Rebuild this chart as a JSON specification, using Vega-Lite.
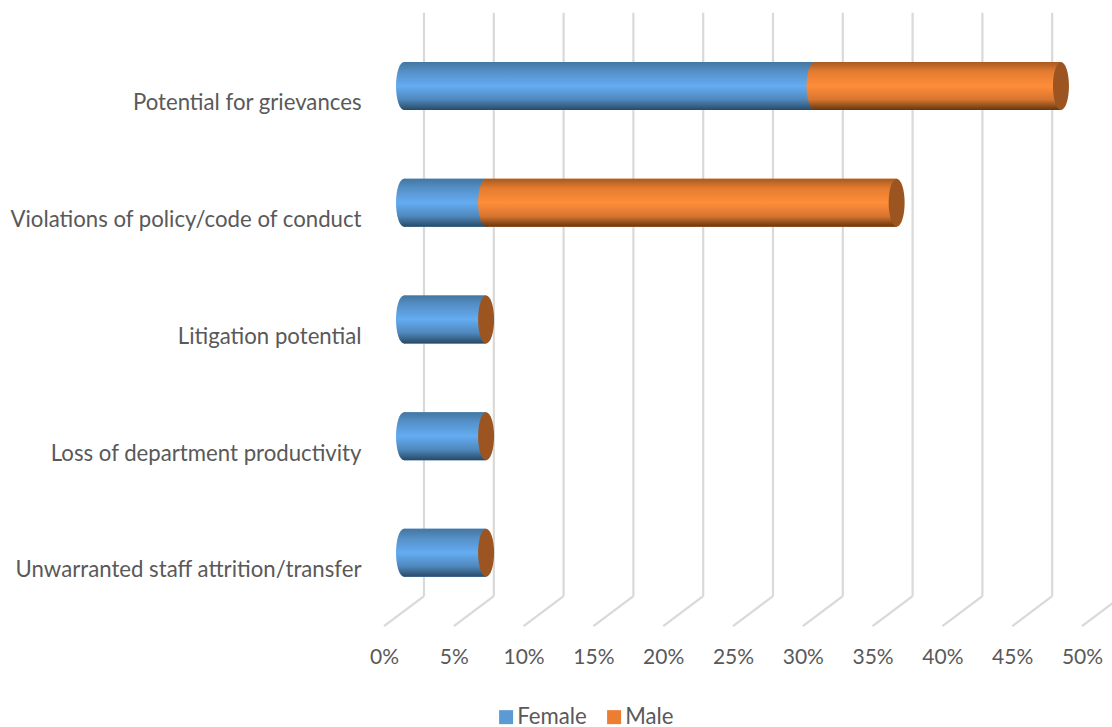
{"$schema":"https://vega.github.io/schema/vega-lite/v6.json","width":698,"height":583.5,"autosize":"none","padding":{"left":384,"top":27.7,"right":30,"bottom":115.8},"background":"white","config":{"view":{"stroke":null},"font":"Lato"},"data":{"values":[{"cat":"Potential for grievances","gender":"Female","value":0.2941},{"cat":"Potential for grievances","gender":"Male","value":0.1765},{"cat":"Violations of policy/code of conduct","gender":"Female","value":0.0588},{"cat":"Violations of policy/code of conduct","gender":"Male","value":0.2941},{"cat":"Litigation potential","gender":"Female","value":0.0588},{"cat":"Litigation potential","gender":"Male","value":0},{"cat":"Loss of department productivity","gender":"Female","value":0.0588},{"cat":"Loss of department productivity","gender":"Male","value":0},{"cat":"Unwarranted staff attrition/transfer","gender":"Female","value":0.0588},{"cat":"Unwarranted staff attrition/transfer","gender":"Male","value":0}]},"transform":[{"stack":"value","groupby":["cat"],"sort":[{"field":"gender","order":"ascending"}],"as":["v0","v1"]}],"layer":[{"data":{"values":[{"tick":0,"low":0,"high":1},{"tick":0.05,"low":0,"high":1},{"tick":0.1,"low":0,"high":1},{"tick":0.15,"low":0,"high":1},{"tick":0.2,"low":0,"high":1},{"tick":0.25,"low":0,"high":1},{"tick":0.3,"low":0,"high":1},{"tick":0.35,"low":0,"high":1},{"tick":0.4,"low":0,"high":1},{"tick":0.45,"low":0,"high":1},{"tick":0.5,"low":0,"high":1}]},"layer":[{"mark":{"type":"rule","color":"#D9D9D9","strokeWidth":2.2,"xOffset":40,"yOffset":-15,"y2Offset":-15},"encoding":{"x":{"field":"tick","type":"quantitative","title":null,"scale":{"domain":[0,0.5],"nice":false},"axis":{"format":".0%","values":[0,0.05,0.1,0.15,0.2,0.25,0.3,0.35,0.4,0.45,0.5],"domain":false,"ticks":false,"grid":false,"labelFont":"Lato","labelFontSize":21,"labelColor":"#595959","labelPadding":35,"labelFontWeight":"normal","labelFlush":false,"labelOverlap":false,"labelBound":false}},"y":{"field":"low","type":"quantitative","title":null,"scale":{"domain":[0,1],"nice":false},"axis":null},"y2":{"field":"high"}}},{"mark":{"type":"rule","color":"#D9D9D9","strokeWidth":2.2,"xOffset":0,"x2Offset":40,"yOffset":15,"y2Offset":-15},"encoding":{"x":{"field":"tick","type":"quantitative"},"x2":{"field":"tick"},"y":{"field":"low","type":"quantitative","axis":null,"scale":{"domain":[0,1],"nice":false}},"y2":{"field":"low"}}}]},{"layer":[{"mark":{"type":"bar","size":48,"xOffset":20,"x2Offset":20},"encoding":{"y":{"field":"cat","type":"nominal","title":null,"sort":null,"scale":{"paddingInner":0,"paddingOuter":0},"axis":{"domain":false,"ticks":false,"grid":false,"labelFont":"Lato","labelFontSize":22.2,"labelColor":"#595959","labelPadding":23,"labelOffset":17.4,"labelLimit":400}},"x":{"field":"v0","type":"quantitative"},"x2":{"field":"v1"},"color":{"field":"gender","type":"nominal","scale":{"domain":["Female","Male"],"range":["#5B9BD5","#ED7D31"]},"legend":{"title":null,"orient":"none","legendX":111,"legendY":678,"direction":"horizontal","symbolType":"square","symbolSize":196,"symbolStrokeWidth":0,"symbolOpacity":1,"labelFont":"Lato","labelFontSize":22.2,"labelColor":"#595959","columnPadding":16,"labelOffset":0}}}},{"transform":[{"filter":"datum.gender == 'Female'"}],"mark":{"type":"bar","size":48,"xOffset":20,"x2Offset":20,"fill":{"gradient":"linear","x1":0,"y1":0,"x2":0,"y2":1,"stops":[{"offset":0,"color":"#44769F"},{"offset":0.2,"color":"#5590C8"},{"offset":0.5,"color":"#64ACF2"},{"offset":0.78,"color":"#4F88BC"},{"offset":1,"color":"#274A66"}]}},"encoding":{"y":{"field":"cat","type":"nominal","sort":null},"x":{"field":"v0","type":"quantitative"},"x2":{"field":"v1"}}},{"transform":[{"filter":"datum.gender == 'Female'"}],"mark":{"type":"point","shape":"M0,-1C0.184,-1 0.333,-0.552 0.333,0C0.333,0.552 0.184,1 0,1C-0.184,1 -0.333,0.552 -0.333,0C-0.333,-0.552 -0.184,-1 0,-1Z","size":2304,"filled":true,"opacity":1,"xOffset":20,"fill":{"gradient":"linear","x1":0,"y1":0,"x2":0,"y2":1,"stops":[{"offset":0,"color":"#44769F"},{"offset":0.2,"color":"#5590C8"},{"offset":0.5,"color":"#64ACF2"},{"offset":0.78,"color":"#4F88BC"},{"offset":1,"color":"#274A66"}]}},"encoding":{"y":{"field":"cat","type":"nominal","sort":null},"x":{"field":"v0","type":"quantitative"}}},{"transform":[{"filter":"datum.gender == 'Male' && datum.value > 0"}],"mark":{"type":"bar","size":48,"xOffset":20,"x2Offset":20,"fill":{"gradient":"linear","x1":0,"y1":0,"x2":0,"y2":1,"stops":[{"offset":0,"color":"#A85A22"},{"offset":0.2,"color":"#E47C30"},{"offset":0.5,"color":"#FF8D3A"},{"offset":0.78,"color":"#D87530"},{"offset":1,"color":"#63360F"}]}},"encoding":{"y":{"field":"cat","type":"nominal","sort":null},"x":{"field":"v0","type":"quantitative"},"x2":{"field":"v1"}}},{"transform":[{"filter":"datum.gender == 'Male' && datum.value > 0"}],"mark":{"type":"point","shape":"M0,-1C0.184,-1 0.333,-0.552 0.333,0C0.333,0.552 0.184,1 0,1C-0.184,1 -0.333,0.552 -0.333,0C-0.333,-0.552 -0.184,-1 0,-1Z","size":2304,"filled":true,"opacity":1,"xOffset":20,"fill":{"gradient":"linear","x1":0,"y1":0,"x2":0,"y2":1,"stops":[{"offset":0,"color":"#A85A22"},{"offset":0.2,"color":"#E47C30"},{"offset":0.5,"color":"#FF8D3A"},{"offset":0.78,"color":"#D87530"},{"offset":1,"color":"#63360F"}]}},"encoding":{"y":{"field":"cat","type":"nominal","sort":null},"x":{"field":"v0","type":"quantitative"}}},{"transform":[{"filter":"datum.gender == 'Male'"}],"mark":{"type":"point","shape":"M0,-1C0.184,-1 0.333,-0.552 0.333,0C0.333,0.552 0.184,1 0,1C-0.184,1 -0.333,0.552 -0.333,0C-0.333,-0.552 -0.184,-1 0,-1Z","size":2304,"filled":true,"opacity":1,"xOffset":20,"fill":"#9C5520"},"encoding":{"y":{"field":"cat","type":"nominal","sort":null},"x":{"field":"v1","type":"quantitative"}}}]}],"resolve":{"scale":{"y":"independent"}}}
